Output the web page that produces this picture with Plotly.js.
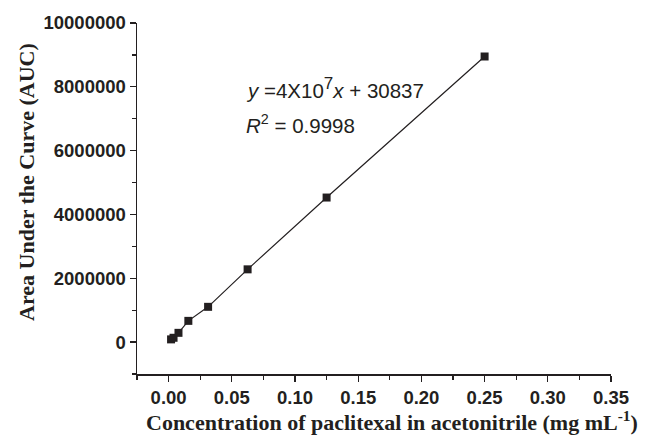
<!DOCTYPE html>
<html>
<head>
<meta charset="utf-8">
<script src="https://cdn.plot.ly/plotly-3.0.1.min.js"></script>
<style>html,body{margin:0;padding:0;background:#fff;}#chart{width:658px;height:440px;}</style>
</head>
<body>
<div id="chart"></div>
<script>
const concentration = [0.001953125, 0.00390625, 0.0078125, 0.015625, 0.03125, 0.0625, 0.125, 0.25];
const auc = [85000, 135000, 290000, 665000, 1105000, 2280000, 4530000, 8950000];
const xTickVals = [0, 0.05, 0.10, 0.15, 0.20, 0.25, 0.30, 0.35];
const xTickText = ["0.00", "0.05", "0.10", "0.15", "0.20", "0.25", "0.30", "0.35"];
const yTickVals = [0, 2000000, 4000000, 6000000, 8000000, 10000000];
const yTickText = ["0", "2000000", "4000000", "6000000", "8000000", "10000000"];
const equationText = "<i>y</i> =4X10<sup><span style='font-size:17px'>7</span></sup><i>x</i> + 30837";
const r2Text = "<i>R</i><sup>2</sup> = 0.9998";
const xTitle = "Concentration of paclitexal in acetonitrile (mg mL<sup>-1</sup>)";
const yTitle = "Area Under the Curve (AUC)";

const ink = '#231f20';
const L = 137, R = 611, T = 23, B = 374;
const W = 658, H = 440;
const pw = R - L, ph = B - T;
function px(x){ return (x - L) / pw; }
function py(y){ return (B - y) / ph; }

const trace = {
  x: concentration, y: auc, type: 'scatter', mode: 'lines+markers',
  line: {color: ink, width: 1.2},
  marker: {symbol: 'square', size: 8, color: ink},
  showlegend: false, hoverinfo: 'skip'
};

const sans = 'Arial, "Liberation Sans", sans-serif';
const serif = '"Times New Roman", "Liberation Serif", serif';
const tickFont = {family: sans, size: 18.5, color: ink, weight: 'bold'};
const layout = {
  width: W, height: H,
  margin: {l: L, r: W - R, t: T, b: H - B, pad: 0},
  paper_bgcolor: '#fff', plot_bgcolor: '#fff',
  xaxis: {
    range: [-0.025, 0.35], showgrid: false, zeroline: false,
    showline: true, linecolor: ink, linewidth: 1.5,
    ticks: 'outside', ticklen: 6, tickwidth: 1.3, tickcolor: ink,
    tickvals: xTickVals, ticktext: xTickText, tickfont: tickFont,
    minor: {tickvals: [-0.025, 0.025, 0.075, 0.125, 0.175, 0.225, 0.275, 0.325], ticks: 'outside', ticklen: 4, tickwidth: 1.2, tickcolor: ink, showgrid: false}
  },
  yaxis: {
    range: [-1000000, 10000000], showgrid: false, zeroline: false,
    showline: true, linecolor: ink, linewidth: 1.5,
    ticks: 'outside', ticklen: 6, tickwidth: 1.3, tickcolor: ink,
    tickvals: yTickVals, ticktext: yTickText, tickfont: tickFont,
    minor: {tickvals: [-1000000, 1000000, 3000000, 5000000, 7000000, 9000000], ticks: 'outside', ticklen: 4, tickwidth: 1.2, tickcolor: ink, showgrid: false}
  },
  annotations: [
    {text: equationText, xref: 'paper', yref: 'paper', x: px(244), y: py(88), xanchor: 'left', yanchor: 'middle', showarrow: false,
     font: {family: sans, size: 20.5, color: ink}},
    {text: r2Text, xref: 'paper', yref: 'paper', x: px(244), y: py(124), xanchor: 'left', yanchor: 'middle', showarrow: false,
     font: {family: sans, size: 20.5, color: ink}},
    {text: '<b>' + xTitle + '</b>', xref: 'paper', yref: 'paper', x: px(392), y: py(421), xanchor: 'center', yanchor: 'middle', showarrow: false,
     font: {family: serif, size: 22, color: ink}},
    {text: '<b>' + yTitle + '</b>', xref: 'paper', yref: 'paper', x: px(27), y: py(182), xanchor: 'center', yanchor: 'middle', showarrow: false, textangle: -90,
     font: {family: serif, size: 22, color: ink}}
  ]
};

Plotly.newPlot('chart', [trace], layout, {displayModeBar: false, staticPlot: true});
</script>
</body>
</html>
